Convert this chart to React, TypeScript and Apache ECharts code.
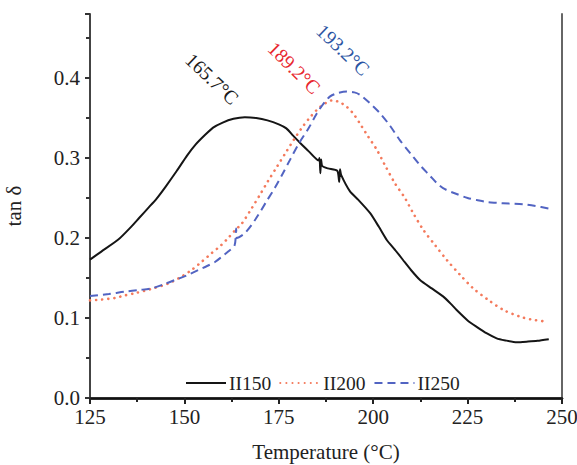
import React, { useEffect, useRef } from "react";
import * as echarts from "echarts";

const xTicks = { min: 125, max: 250, interval: 25 };
const yTicks = { min: 0, max: 0.48, interval: 0.1 };

const seriesNames = ["II150", "II200", "II250"];

const ii150: [number, number][] = [
  [125, 0.173], [128, 0.183], [132.5, 0.198], [135.5, 0.212], [138, 0.225],
  [140.5, 0.238], [142.6, 0.249], [145, 0.264], [148, 0.284], [150.7, 0.303],
  [153, 0.317], [155.5, 0.329], [157.6, 0.338], [160, 0.344], [163, 0.349],
  [166, 0.351], [169, 0.35], [172, 0.347], [175, 0.342], [177, 0.337],
  [178.8, 0.328], [180.6, 0.319], [183, 0.308], [185.5, 0.297], [185.8, 0.3],
  [186.0, 0.281], [186.2, 0.298], [186.5, 0.29], [188, 0.287], [190.5, 0.284],
  [191, 0.27], [191.2, 0.286], [191.5, 0.279], [193.9, 0.258], [196, 0.248],
  [199.2, 0.231], [201.5, 0.214], [203.6, 0.1975], [205.8, 0.185], [207.9, 0.1725],
  [210, 0.16], [212.4, 0.1475], [215.5, 0.137], [218.5, 0.127], [220.5, 0.118],
  [222.1, 0.11], [225, 0.097], [227.4, 0.089], [230, 0.081], [232.7, 0.0746],
  [235, 0.072], [238, 0.0696], [241, 0.0705], [243.5, 0.0715], [246.5, 0.0735],
];

const ii200: [number, number][] = [
  [125, 0.122], [128, 0.123], [131.6, 0.125], [134, 0.128], [136.9, 0.131],
  [141, 0.136], [145.7, 0.143], [149, 0.151], [151.9, 0.16], [154.5, 0.17],
  [157.2, 0.181], [159.5, 0.19], [161.6, 0.2], [163.5, 0.21], [165.2, 0.218],
  [167.8, 0.237], [170, 0.254], [172, 0.27], [174.5, 0.289], [177, 0.308],
  [179, 0.323], [181, 0.337], [183.3, 0.351], [185.5, 0.362], [187.5, 0.369],
  [189.1, 0.372], [191, 0.37], [193, 0.364], [194.8, 0.355], [196.5, 0.343],
  [198.5, 0.328], [201, 0.31], [203, 0.292], [205.8, 0.268], [208.4, 0.25],
  [210.6, 0.231], [213.3, 0.21], [216.4, 0.191], [219.5, 0.1725], [223, 0.154],
  [226.5, 0.137], [230.5, 0.1225], [234.5, 0.11], [238.9, 0.1017], [242, 0.098],
  [245, 0.096],
];

const ii250: [number, number][] = [
  [125, 0.1275], [130, 0.13], [134.3, 0.133], [138, 0.135], [141.3, 0.137],
  [144.5, 0.142], [147.5, 0.1475], [150.5, 0.153], [153.7, 0.16], [156, 0.165],
  [158.1, 0.17], [160, 0.177], [161.6, 0.183], [163.3, 0.191], [163.7, 0.212],
  [163.9, 0.2], [166, 0.206], [168.7, 0.2225], [171.9, 0.247], [174, 0.263],
  [176.1, 0.281], [178, 0.298], [180.3, 0.318], [183, 0.338], [185.1, 0.356],
  [187, 0.369], [188.6, 0.377], [190.5, 0.381], [193, 0.383], [195, 0.382],
  [196.5, 0.379], [199, 0.369], [201.8, 0.356], [204.5, 0.34], [207.1, 0.322],
  [210, 0.305], [212.4, 0.291], [215, 0.278], [217, 0.268], [219, 0.261],
  [222.1, 0.255], [225, 0.25], [227.4, 0.2475], [230, 0.245], [232.7, 0.244],
  [236, 0.243], [239.8, 0.242], [243, 0.24], [246.4, 0.237],
];

const peakLabels = ["165.7°C", "189.2°C", "193.2°C"];

const FONT = "Liberation Serif, Times New Roman, DejaVu Serif, serif";

export default function App() {
  const ref = useRef<HTMLDivElement>(null);
  useEffect(() => {
    if (!ref.current) return;
    const chart = echarts.init(ref.current, null, { renderer: "svg" });
    const colors = ["#151515", "#f47a5c", "#5264c2"];
    const tickText = { fontFamily: FONT, fontSize: 21, color: "#222" };
    const legendText = { fontFamily: FONT, fontSize: 19.5, color: "#222" };
    chart.setOption({
      animation: false,
      backgroundColor: "#fff",
      textStyle: { fontFamily: FONT },
      grid: { left: 90, right: 15, top: 14, bottom: 67, containLabel: false, outerBoundsMode: "none" },
      legend: {
        data: seriesNames,
        left: 180,
        top: 368,
        itemWidth: 40,
        itemHeight: 20,
        itemGap: 8,
        itemStyle: { opacity: 0 },
        textStyle: { ...legendText, padding: [2, 0, 0, -2] },
      },
      xAxis: [
        {
          type: "value",
          min: xTicks.min,
          max: xTicks.max,
          interval: xTicks.interval,
          name: "Temperature (°C)",
          nameLocation: "middle",
          nameGap: 43,
          nameTextStyle: tickText,
          axisLine: { lineStyle: { color: "#666", width: 2.5 } },
          axisTick: { inside: false, length: 6, lineStyle: { color: "#222", width: 2 } },
          minorTick: { show: true, splitNumber: 2, length: 4, lineStyle: { color: "#222", width: 2 } },
          axisLabel: { ...tickText, margin: 8 },
          splitLine: { show: false },
        },
        {
          type: "value",
          position: "top",
          min: xTicks.min,
          max: xTicks.max,
          axisLine: { show: true, lineStyle: { color: "#111", width: 2.5 } },
          axisTick: { show: false },
          axisLabel: { show: false },
          splitLine: { show: false },
        },
      ],
      yAxis: [
        {
          type: "value",
          min: yTicks.min,
          max: yTicks.max,
          interval: yTicks.interval,
          name: "tan δ",
          nameLocation: "middle",
          nameGap: 66,
          nameTextStyle: tickText,
          axisLine: { show: true, lineStyle: { color: "#444", width: 2 } },
          axisTick: { inside: false, length: 5, lineStyle: { color: "#333", width: 2 } },
          minorTick: { show: true, splitNumber: 2, length: 4, lineStyle: { color: "#333", width: 2 } },
          axisLabel: {
            ...tickText,
            margin: 10,
            showMaxLabel: false,
            formatter: (v: number) => v.toFixed(1),
          },
          splitLine: { show: false },
        },
        {
          type: "value",
          position: "right",
          min: yTicks.min,
          max: yTicks.max,
          axisLine: { show: true, lineStyle: { color: "#666", width: 2 } },
          axisTick: { show: false },
          axisLabel: { show: false },
          splitLine: { show: false },
        },
      ],
      series: [
        {
          name: seriesNames[0],
          type: "line",
          data: ii150,
          showSymbol: false,
          symbol: "none",
          smooth: 0.2,
          lineStyle: { color: colors[0], width: 2 },
          itemStyle: { color: colors[0] },
        },
        {
          name: seriesNames[1],
          type: "line",
          data: ii200,
          showSymbol: false,
          symbol: "none",
          smooth: 0.3,
          lineStyle: { color: colors[1], width: 2.6, type: [0.1, 6], cap: "round" },
          itemStyle: { color: colors[1] },
        },
        {
          name: seriesNames[2],
          type: "line",
          data: ii250,
          showSymbol: false,
          symbol: "none",
          smooth: 0.3,
          lineStyle: { color: colors[2], width: 2, type: [8, 5] },
          itemStyle: { color: colors[2] },
        },
      ],
      graphic: [
        {
          type: "text",
          x: 212,
          y: 79,
          rotation: -0.76,
          style: { text: peakLabels[0], fill: "#1a1a1a", fontFamily: FONT, fontSize: 19.5, align: "center", verticalAlign: "middle" },
        },
        {
          type: "text",
          x: 294,
          y: 68,
          rotation: -0.78,
          style: { text: peakLabels[1], fill: "#e8262e", fontFamily: FONT, fontSize: 19.5, align: "center", verticalAlign: "middle" },
        },
        {
          type: "text",
          x: 343,
          y: 50,
          rotation: -0.76,
          style: { text: peakLabels[2], fill: "#2c55a3", fontFamily: FONT, fontSize: 19.5, align: "center", verticalAlign: "middle" },
        },
      ],
    });
    return () => chart.dispose();
  }, []);
  return <div ref={ref} style={{ width: 577, height: 465, position: "absolute", left: 0, top: 0 }} />;
}
